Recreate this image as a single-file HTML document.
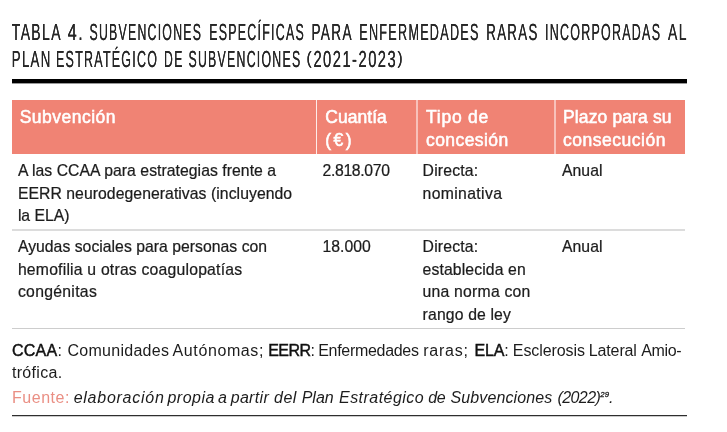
<!DOCTYPE html>
<html lang="es">
<head>
<meta charset="utf-8">
<title>Tabla 4</title>
<style>
html,body{margin:0;padding:0;background:#fff;}
body{width:727px;height:432px;position:relative;overflow:hidden;font-family:"Liberation Sans",sans-serif;color:#222;}
#title{position:absolute;left:0;top:0;margin:0;width:727px;height:90px;font-weight:normal;}
#title svg{display:block}
#title text{font-family:"Liberation Sans",sans-serif;font-size:23.3px;fill:#262626;letter-spacing:2.3px;text-rendering:geometricPrecision;}
#title svg{filter:drop-shadow(0 0 0 #262626);}
#rule{position:absolute;left:12px;top:79px;width:675px;height:5px;background:linear-gradient(#000 0,#000 80%,rgba(0,0,0,.4) 80%,rgba(0,0,0,.4) 100%);}
table{position:absolute;left:12px;top:100px;width:673px;border-collapse:separate;border-spacing:0;table-layout:fixed;}
th,td{padding:0;vertical-align:top;text-align:left;white-space:nowrap;overflow:visible;box-sizing:border-box;}
th{background:#f08374;color:#fff;font-weight:normal;-webkit-text-stroke:0.55px #fff;font-size:17.5px;line-height:22.9px;height:54px;padding-top:5.6px;}
th.c2{border-left:1px solid rgba(255,255,255,.85);}
th.c3,th.c4{border-left:2px solid rgba(255,255,255,.5);}
td{font-size:15.75px;line-height:22.5px;padding-top:6.0px;color:#1c1c1c;-webkit-text-stroke:0.22px #1c1c1c;}
tr.r1 td{height:77px;border-bottom:2px solid #dcdcdc;}
tr.r2 td{height:98px;border-bottom:1px solid #cdcdcd;padding-top:5.1px;}
th.c1{padding-left:7.7px;}
th.c2{padding-left:8.3px;}
th.c3{padding-left:8px;}
th.c4{padding-left:7px;}
td.c1{padding-left:5.9px;}
td.c2{padding-left:6.5px;}
td.c3{padding-left:6.6px;}
td.c4{padding-left:8px;}
#notes{position:absolute;left:12px;top:340.1px;width:680px;font-size:16.0px;line-height:21.6px;white-space:nowrap;margin:0;color:#1c1c1c;}
#notes p{margin:0;}
#notes .src{margin-top:3.8px;}
#notes .src b{font-weight:normal;color:#ea8f84;}
#notes strong{font-weight:normal;-webkit-text-stroke:0.45px #111;color:#111;}
#notes sup{font-size:7.8px;line-height:0;vertical-align:6.2px;letter-spacing:0;-webkit-text-stroke:0.3px #1c1c1c;}
#endrule{position:absolute;left:12px;top:415px;width:675px;height:2px;background:linear-gradient(#2e2e2e 0,#2e2e2e 50%,rgba(46,46,46,.25) 50%,rgba(46,46,46,.25) 100%);}
</style>
</head>
<body>
<h1 id="title"><svg width="727" height="90" viewBox="0 0 727 90">
<text x="11.8" y="40" textLength="50.1" lengthAdjust="spacingAndGlyphs">TABLA</text>
<text x="67.8" y="40" textLength="16.6" lengthAdjust="spacingAndGlyphs">4.</text>
<text x="89.5" y="40" textLength="112.7" lengthAdjust="spacingAndGlyphs">SUBVENCIONES</text>
<text x="209.3" y="40" textLength="95.7" lengthAdjust="spacingAndGlyphs">ESPECÍFICAS</text>
<text x="311.4" y="40" textLength="41.4" lengthAdjust="spacingAndGlyphs">PARA</text>
<text x="359.3" y="40" textLength="120.4" lengthAdjust="spacingAndGlyphs">ENFERMEDADES</text>
<text x="486.3" y="40" textLength="52.3" lengthAdjust="spacingAndGlyphs">RARAS</text>
<text x="545.0" y="40" textLength="116.2" lengthAdjust="spacingAndGlyphs">INCORPORADAS</text>
<text x="668.0" y="40" textLength="19.9" lengthAdjust="spacingAndGlyphs">AL</text>
<text x="11.8" y="67" textLength="39.8" lengthAdjust="spacingAndGlyphs">PLAN</text>
<text x="56.0" y="67" textLength="102.2" lengthAdjust="spacingAndGlyphs">ESTRATÉGICO</text>
<text x="164.1" y="67" textLength="19.4" lengthAdjust="spacingAndGlyphs">DE</text>
<text x="188.5" y="67" textLength="112.9" lengthAdjust="spacingAndGlyphs">SUBVENCIONES</text>
<text x="306.4" y="63.7" style="font-size:18.0px;letter-spacing:0" textLength="5.1" lengthAdjust="spacingAndGlyphs">(</text>
<text x="313.4" y="67" textLength="83.8" lengthAdjust="spacingAndGlyphs">2021-2023</text>
<text x="397.5" y="63.7" style="font-size:18.0px;letter-spacing:0" textLength="5.1" lengthAdjust="spacingAndGlyphs">)</text>
</svg></h1>
<div id="rule"></div>
<table>
<colgroup><col style="width:304px"><col style="width:100px"><col style="width:138px"><col style="width:131px"></colgroup>
<thead>
<tr><th class="c1"><span style="letter-spacing:0.483px">Subvención</span></th><th class="c2"><span style="letter-spacing:0.035px">Cuantía</span><br><span style="letter-spacing:2.406px">(€)</span></th><th class="c3"><span style="letter-spacing:0.747px">Tipo de</span><br><span style="letter-spacing:0.425px">concesión</span></th><th class="c4"><span style="letter-spacing:0.124px">Plazo para su</span><br><span style="letter-spacing:0.522px">consecución</span></th></tr>
</thead>
<tbody>
<tr class="r1"><td class="c1"><span style="letter-spacing:0.047px">A las CCAA para estrategias frente a</span><br><span style="letter-spacing:0.056px">EERR neurodegenerativas (incluyendo</span><br><span style="letter-spacing:-0.025px">la ELA)</span></td><td class="c2"><span style="letter-spacing:-0.321px">2.818.070</span></td><td class="c3"><span style="letter-spacing:0.177px">Directa:</span><br><span style="letter-spacing:0.348px">nominativa</span></td><td class="c4"><span style="letter-spacing:0.054px">Anual</span></td></tr>
<tr class="r2"><td class="c1"><span style="letter-spacing:0.026px">Ayudas sociales para personas con</span><br><span style="letter-spacing:0.206px">hemofilia u otras coagulopatías</span><br><span style="letter-spacing:0.302px">congénitas</span></td><td class="c2"><span style="letter-spacing:0.005px">18.000</span></td><td class="c3"><span style="letter-spacing:0.177px">Directa:</span><br><span style="letter-spacing:0.117px">establecida en</span><br><span style="letter-spacing:0.219px">una norma con</span><br><span style="letter-spacing:0.147px">rango de ley</span></td><td class="c4"><span style="letter-spacing:0.054px">Anual</span></td></tr>
</tbody>
</table>
<div id="notes">
<p class="abbr"><span style="letter-spacing:0.25px;word-spacing:0.65px"><strong>CCAA</strong>: </span><span style="letter-spacing:0.27px;word-spacing:-1.38px">Comunidades </span><span style="letter-spacing:0.61px;word-spacing:-0.87px">Autónomas; </span><span style="letter-spacing:-0.55px;word-spacing:-0.04px"><strong>EERR</strong>: </span><span style="letter-spacing:-0.31px;word-spacing:0.47px">Enfermedades </span><span style="letter-spacing:0.76px;word-spacing:0.63px">raras; </span><span style="letter-spacing:-0.20px;word-spacing:0.15px"><strong>ELA</strong>: </span><span style="letter-spacing:-0.09px;word-spacing:-0.37px">Esclerosis </span><span style="letter-spacing:-0.14px;word-spacing:0.13px">Lateral </span><span style="letter-spacing:-0.35px">Amio-</span><br><span style="letter-spacing:0.30px">trófica.</span></p>
<p class="src"><span style="letter-spacing:0.52px;word-spacing:-1.19px"><b>Fuente:</b> </span><i style="letter-spacing:0.74px;word-spacing:-2.32px">elaboración </i><i style="letter-spacing:0.50px;word-spacing:-1.85px">propia </i><i style="letter-spacing:0.00px;word-spacing:-0.65px">a </i><i style="letter-spacing:0.31px;word-spacing:0.24px">partir </i><i style="letter-spacing:0.52px;word-spacing:-0.19px">del </i><i style="letter-spacing:-0.01px;word-spacing:0.87px">Plan </i><i style="letter-spacing:0.47px;word-spacing:-0.78px">Estratégico </i><i style="letter-spacing:-0.55px;word-spacing:1.61px">de </i><i style="letter-spacing:0.10px;word-spacing:0.56px">Subvenciones </i><i style="letter-spacing:-0.55px">(2022)</i><i><sup>29</sup>.</i></p>
</div>
<div id="endrule"></div>
</body>
</html>
